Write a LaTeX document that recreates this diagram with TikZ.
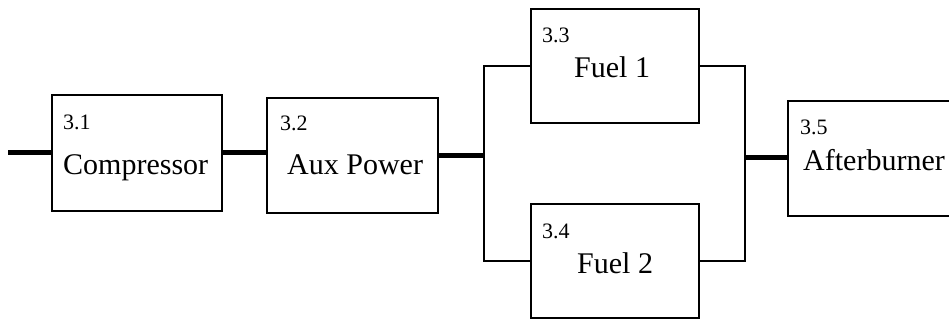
\documentclass[tikz,border=0pt]{standalone}
\usepackage{fontspec}
\setmainfont{Liberation Serif}
\begin{document}
\begin{tikzpicture}[x=1pt,y=-1pt,
  blockbox/.style={draw,line width=1.2pt,rectangle,inner sep=0pt},
  numlabel/.style={anchor=base west,inner sep=0pt,font=\fontsize{22}{24}\selectfont},
  mainlabel/.style={anchor=base west,inner sep=0pt,font=\fontsize{30}{34}\selectfont},
  heavy/.style={line width=5pt},
  bus/.style={line width=1.6pt}]
\clip (0,0) rectangle (949,320);
\fill[white] (0,0) rectangle (949,320);
% boxes
\node[blockbox,minimum width=170pt,minimum height=116pt] (c) at (137,153) {};
\node[blockbox,minimum width=171pt,minimum height=115pt] (a) at (352.5,155.5) {};
\node[blockbox,minimum width=168pt,minimum height=114pt] (f1) at (615,66) {};
\node[blockbox,minimum width=168pt,minimum height=114pt] (f2) at (615,261) {};
\node[blockbox,minimum width=180pt,minimum height=115pt] (ab) at (878,158.5) {};
% labels
\node[numlabel] (n1) at (63,130) {3.1};
\node[mainlabel] (t1) at (63,175) {Compressor};
\node[numlabel] (n2) at (280,131) {3.2};
\node[mainlabel] (t2) at (287,175) {Aux Power};
\node[numlabel] (n3) at (542,43) {3.3};
\node[mainlabel] (t3) at (574,78) {Fuel 1};
\node[numlabel] (n4) at (542,238) {3.4};
\node[mainlabel] (t4) at (577,273) {Fuel 2};
\node[numlabel] (n5) at (800,135) {3.5};
\node[mainlabel] (t5) at (803,171) {Afterburner};
% connectors
\coordinate (in) at (8,153);
\coordinate (bl) at (484,155.5);
\coordinate (br) at (745,158);
\draw[heavy] (in) -- (c.west);
\draw[heavy] (c.east) -- (c.east -| a.west);
\draw[heavy] (a.east) -- (bl);
\draw[bus] (f1.west) -| (bl) |- (f2.west);
\draw[bus] (f1.east) -| (br) |- (f2.east);
\draw[heavy] (br) -- (br -| ab.west);
\end{tikzpicture}
\end{document}
